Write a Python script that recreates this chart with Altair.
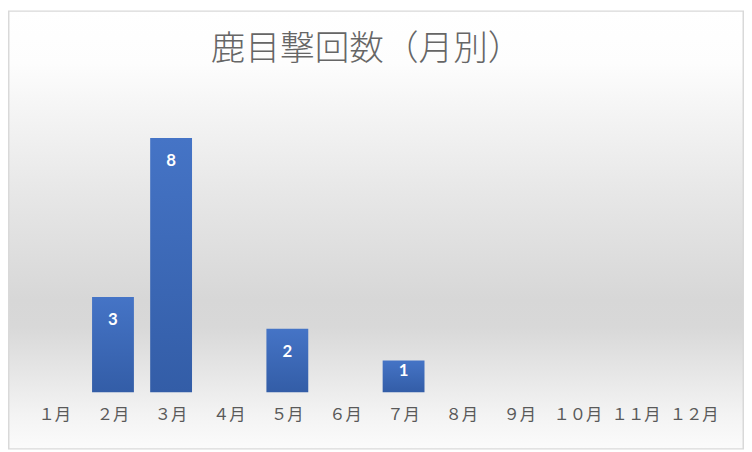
import altair as alt
import pandas as pd

months = ["１月", "２月", "３月", "４月", "５月", "６月", "７月", "８月", "９月", "１０月", "１１月", "１２月"]
counts = [0, 3, 8, 0, 2, 0, 1, 0, 0, 0, 0, 0]
title_text = "鹿目撃回数（月別）"

df = pd.DataFrame({"month": months, "count": counts})

W, H = 705, 289
PL, PT, PR, PB = 18, 97, 21, 58

bg_grad = alt.Gradient(
    gradient="linear", x1=0, y1=0, x2=0, y2=1,
    stops=[
        alt.GradientStop(offset=0.0, color="#ffffff"),
        alt.GradientStop(offset=0.12, color="#fdfdfd"),
        alt.GradientStop(offset=0.21, color="#f6f6f6"),
        alt.GradientStop(offset=0.43, color="#e6e6e6"),
        alt.GradientStop(offset=0.66, color="#d7d7d7"),
        alt.GradientStop(offset=0.72, color="#d8d8d8"),
        alt.GradientStop(offset=0.81, color="#e4e4e4"),
        alt.GradientStop(offset=0.92, color="#f3f3f3"),
        alt.GradientStop(offset=1.0, color="#fbfbfb"),
    ],
)

bar_grad = alt.Gradient(
    gradient="linear", x1=0, y1=0, x2=0, y2=1,
    stops=[
        alt.GradientStop(offset=0.0, color="#4574c6"),
        alt.GradientStop(offset=1.0, color="#335da7"),
    ],
)

bg = alt.Chart(alt.Data(values=[{"t": title_text}])).mark_rect(
    fill=bg_grad, stroke="#d9d9d9", strokeWidth=1.5
).encode(
    x=alt.value(-PL + 0.75), x2=alt.value(W + PR - 0.75),
    y=alt.value(-PT + 0.75), y2=alt.value(H + PB - 0.75),
)

x_enc = alt.X(
    "month:N", sort=months,
    scale=alt.Scale(paddingInner=0.28, paddingOuter=0.14),
    axis=alt.Axis(
        title=None, labelAngle=0, ticks=False, domain=False, grid=False,
        labelColor="#595959", labelFont="Noto Sans CJK JP", labelFontSize=16.5,
        labelPadding=15, zindex=2,
    ),
)
y_scale = alt.Scale(domain=[0, 9])
y_enc = alt.Y("count:Q", scale=y_scale, axis=None)

bars = alt.Chart(df).mark_bar(fill=bar_grad).encode(x=x_enc, y=y_enc)

labels = alt.Chart(df).transform_filter("datum.count > 0").transform_calculate(
    label_y="max(datum.count - 0.72, 0.68)"
).mark_text(
    color="white", font="Lato", fontWeight="bold", fontSize=17,
    baseline="middle",
).encode(x=x_enc, y=alt.Y("label_y:Q", scale=y_scale, axis=None), text="count:Q")

title = alt.Chart(alt.Data(values=[{"t": title_text}])).mark_text(
    font="Noto Sans CJK JP", fontWeight=300, fontSize=35, color="#666666",
    align="center", baseline="middle",
).encode(x=alt.value(W / 2 - 8), y=alt.value(-58), text="t:N")

chart = alt.layer(bg, bars, labels, title).properties(
    width=W, height=H,
    padding={"left": PL, "top": PT, "right": PR, "bottom": PB},
    autosize=alt.AutoSizeParams(type="none"),
    background="white",
).configure_view(stroke=None)

chart.save("out.html", embed_options={"renderer": "svg", "actions": False})
